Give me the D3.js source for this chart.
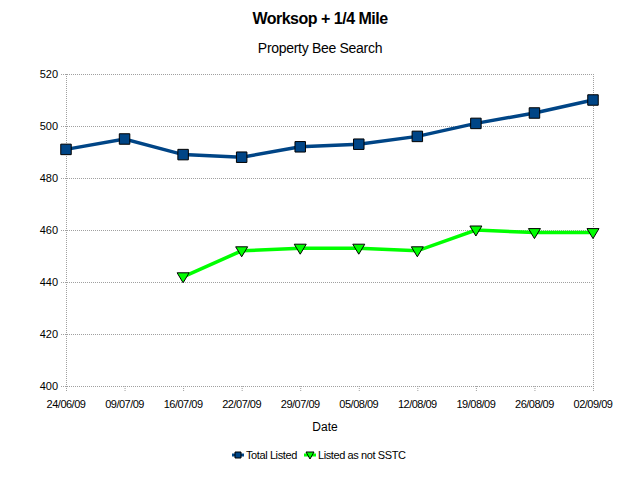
<!DOCTYPE html>
<html>
<head>
<meta charset="utf-8">
<script src="https://cdn.jsdelivr.net/npm/d3@7"></script>
<style>
  body { margin: 0; background: #fff; }
  text { font-family: "Liberation Sans", Arial, sans-serif; fill: #000; }
</style>
</head>
<body>
<div id="chart"></div>
<script>
// chart data
const dates = ["24/06/09", "09/07/09", "16/07/09", "22/07/09", "29/07/09",
               "05/08/09", "12/08/09", "19/08/09", "26/08/09", "02/09/09"];
const totalListed = [491, 495, 489, 488, 492, 493, 496, 501, 505, 510];
const notSSTC = [null, null, 442, 452, 453, 453, 452, 460, 459, 459];
const yTicks = [400, 420, 440, 460, 480, 500, 520];

const svg = d3.select("#chart").append("svg").attr("width", 640).attr("height", 480);
const margin = { top: 74, right: 47, bottom: 94, left: 66 };
const width = 640 - margin.left - margin.right;
const height = 480 - margin.top - margin.bottom;

const g = svg.append("g").attr("transform", `translate(${margin.left},${margin.top})`);

const x = d3.scalePoint().domain(dates).range([0, width]);
const y = d3.scaleLinear().domain([400, 520]).range([height, 0]);

// horizontal grid
g.append("g")
    .selectAll("line")
    .data(yTicks)
    .enter().append("line")
    .attr("x1", -5).attr("x2", width)
    .attr("y1", d => y(d) + 0.5).attr("y2", d => y(d) + 0.5)
    .attr("stroke", "#a0a0a0")
    .attr("stroke-dasharray", "1,1");

// frame sides
[0, width].forEach(px => {
    g.append("line")
        .attr("x1", px + 0.5).attr("x2", px + 0.5)
        .attr("y1", 0).attr("y2", height + 5)
        .attr("stroke", "#a0a0a0")
        .attr("stroke-dasharray", "1,1");
});

// x ticks
g.append("g")
    .selectAll("line")
    .data(dates)
    .enter().append("line")
    .attr("x1", d => x(d) + 0.5).attr("x2", d => x(d) + 0.5)
    .attr("y1", height).attr("y2", height + 5)
    .attr("stroke", "#a0a0a0")
    .attr("stroke-dasharray", "1,1");

// y labels
g.append("g")
    .selectAll("text")
    .data(yTicks)
    .enter().append("text")
    .attr("x", -8)
    .attr("y", d => y(d) + 4)
    .attr("text-anchor", "end")
    .style("font-size", "11px")
    .text(d => d);

// x labels
g.append("g")
    .selectAll("text")
    .data(dates)
    .enter().append("text")
    .attr("x", d => x(d))
    .attr("y", height + 22)
    .attr("text-anchor", "middle")
    .style("font-size", "11px")
    .style("letter-spacing", "-0.5px")
    .text(d => d);

// lines
const line = d3.line()
    .defined(d => d.v !== null)
    .x(d => x(d.date))
    .y(d => y(d.v));

const totalData = dates.map((d, i) => ({ date: d, v: totalListed[i] }));
const sstcData = dates.map((d, i) => ({ date: d, v: notSSTC[i] }));

g.append("path")
    .datum(totalData)
    .attr("fill", "none")
    .attr("stroke", "#004586")
    .attr("stroke-width", 3.5)
    .attr("d", line);

g.append("path")
    .datum(sstcData)
    .attr("fill", "none")
    .attr("stroke", "#00ff00")
    .attr("stroke-width", 3.5)
    .attr("d", line);

const square = d3.symbol().type(d3.symbolSquare).size(110);
const tri = "M-6,-4 L6,-4 L0,6 Z";

g.selectAll(".sq")
    .data(totalData)
    .enter().append("path")
    .attr("class", "sq")
    .attr("transform", d => `translate(${x(d.date)},${y(d.v)})`)
    .attr("d", square)
    .attr("fill", "#004586")
    .attr("stroke", "#000")
    .attr("stroke-width", 1);

g.selectAll(".tri")
    .data(sstcData.filter(d => d.v !== null))
    .enter().append("path")
    .attr("class", "tri")
    .attr("transform", d => `translate(${x(d.date)},${y(d.v)})`)
    .attr("d", tri)
    .attr("fill", "#00ff00")
    .attr("stroke", "#000")
    .attr("stroke-width", 1);

// titles
svg.append("text")
    .attr("x", 320).attr("y", 24)
    .attr("text-anchor", "middle")
    .style("font-size", "16px")
    .style("font-weight", "bold")
    .style("letter-spacing", "-0.5px")
    .text("Worksop + 1/4 Mile");

svg.append("text")
    .attr("x", 320).attr("y", 53)
    .attr("text-anchor", "middle")
    .style("font-size", "14px")
    .style("letter-spacing", "-0.3px")
    .text("Property Bee Search");

svg.append("text")
    .attr("x", 325).attr("y", 431)
    .attr("text-anchor", "middle")
    .style("font-size", "12px")
    .text("Date");

// legend
const legend = svg.append("g").attr("transform", "translate(0,455)");
legend.append("line").attr("x1", 232).attr("x2", 244).attr("y1", 0).attr("y2", 0)
    .attr("stroke", "#004586").attr("stroke-width", 3);
legend.append("path").attr("transform", "translate(238,0)")
    .attr("d", d3.symbol().type(d3.symbolSquare).size(36))
    .attr("fill", "#004586").attr("stroke", "#000");
legend.append("text").attr("x", 246).attr("y", 4)
    .style("font-size", "11px").style("letter-spacing", "-0.4px").text("Total Listed");

legend.append("line").attr("x1", 304).attr("x2", 316).attr("y1", 0).attr("y2", 0)
    .attr("stroke", "#00ff00").attr("stroke-width", 3);
legend.append("path").attr("transform", "translate(310,0)")
    .attr("d", "M-4,-3 L4,-3 L0,4 Z")
    .attr("fill", "#00ff00").attr("stroke", "#000");
legend.append("text").attr("x", 318).attr("y", 4)
    .style("font-size", "11px").style("letter-spacing", "-0.4px").text("Listed as not SSTC");
</script>
</body>
</html>
